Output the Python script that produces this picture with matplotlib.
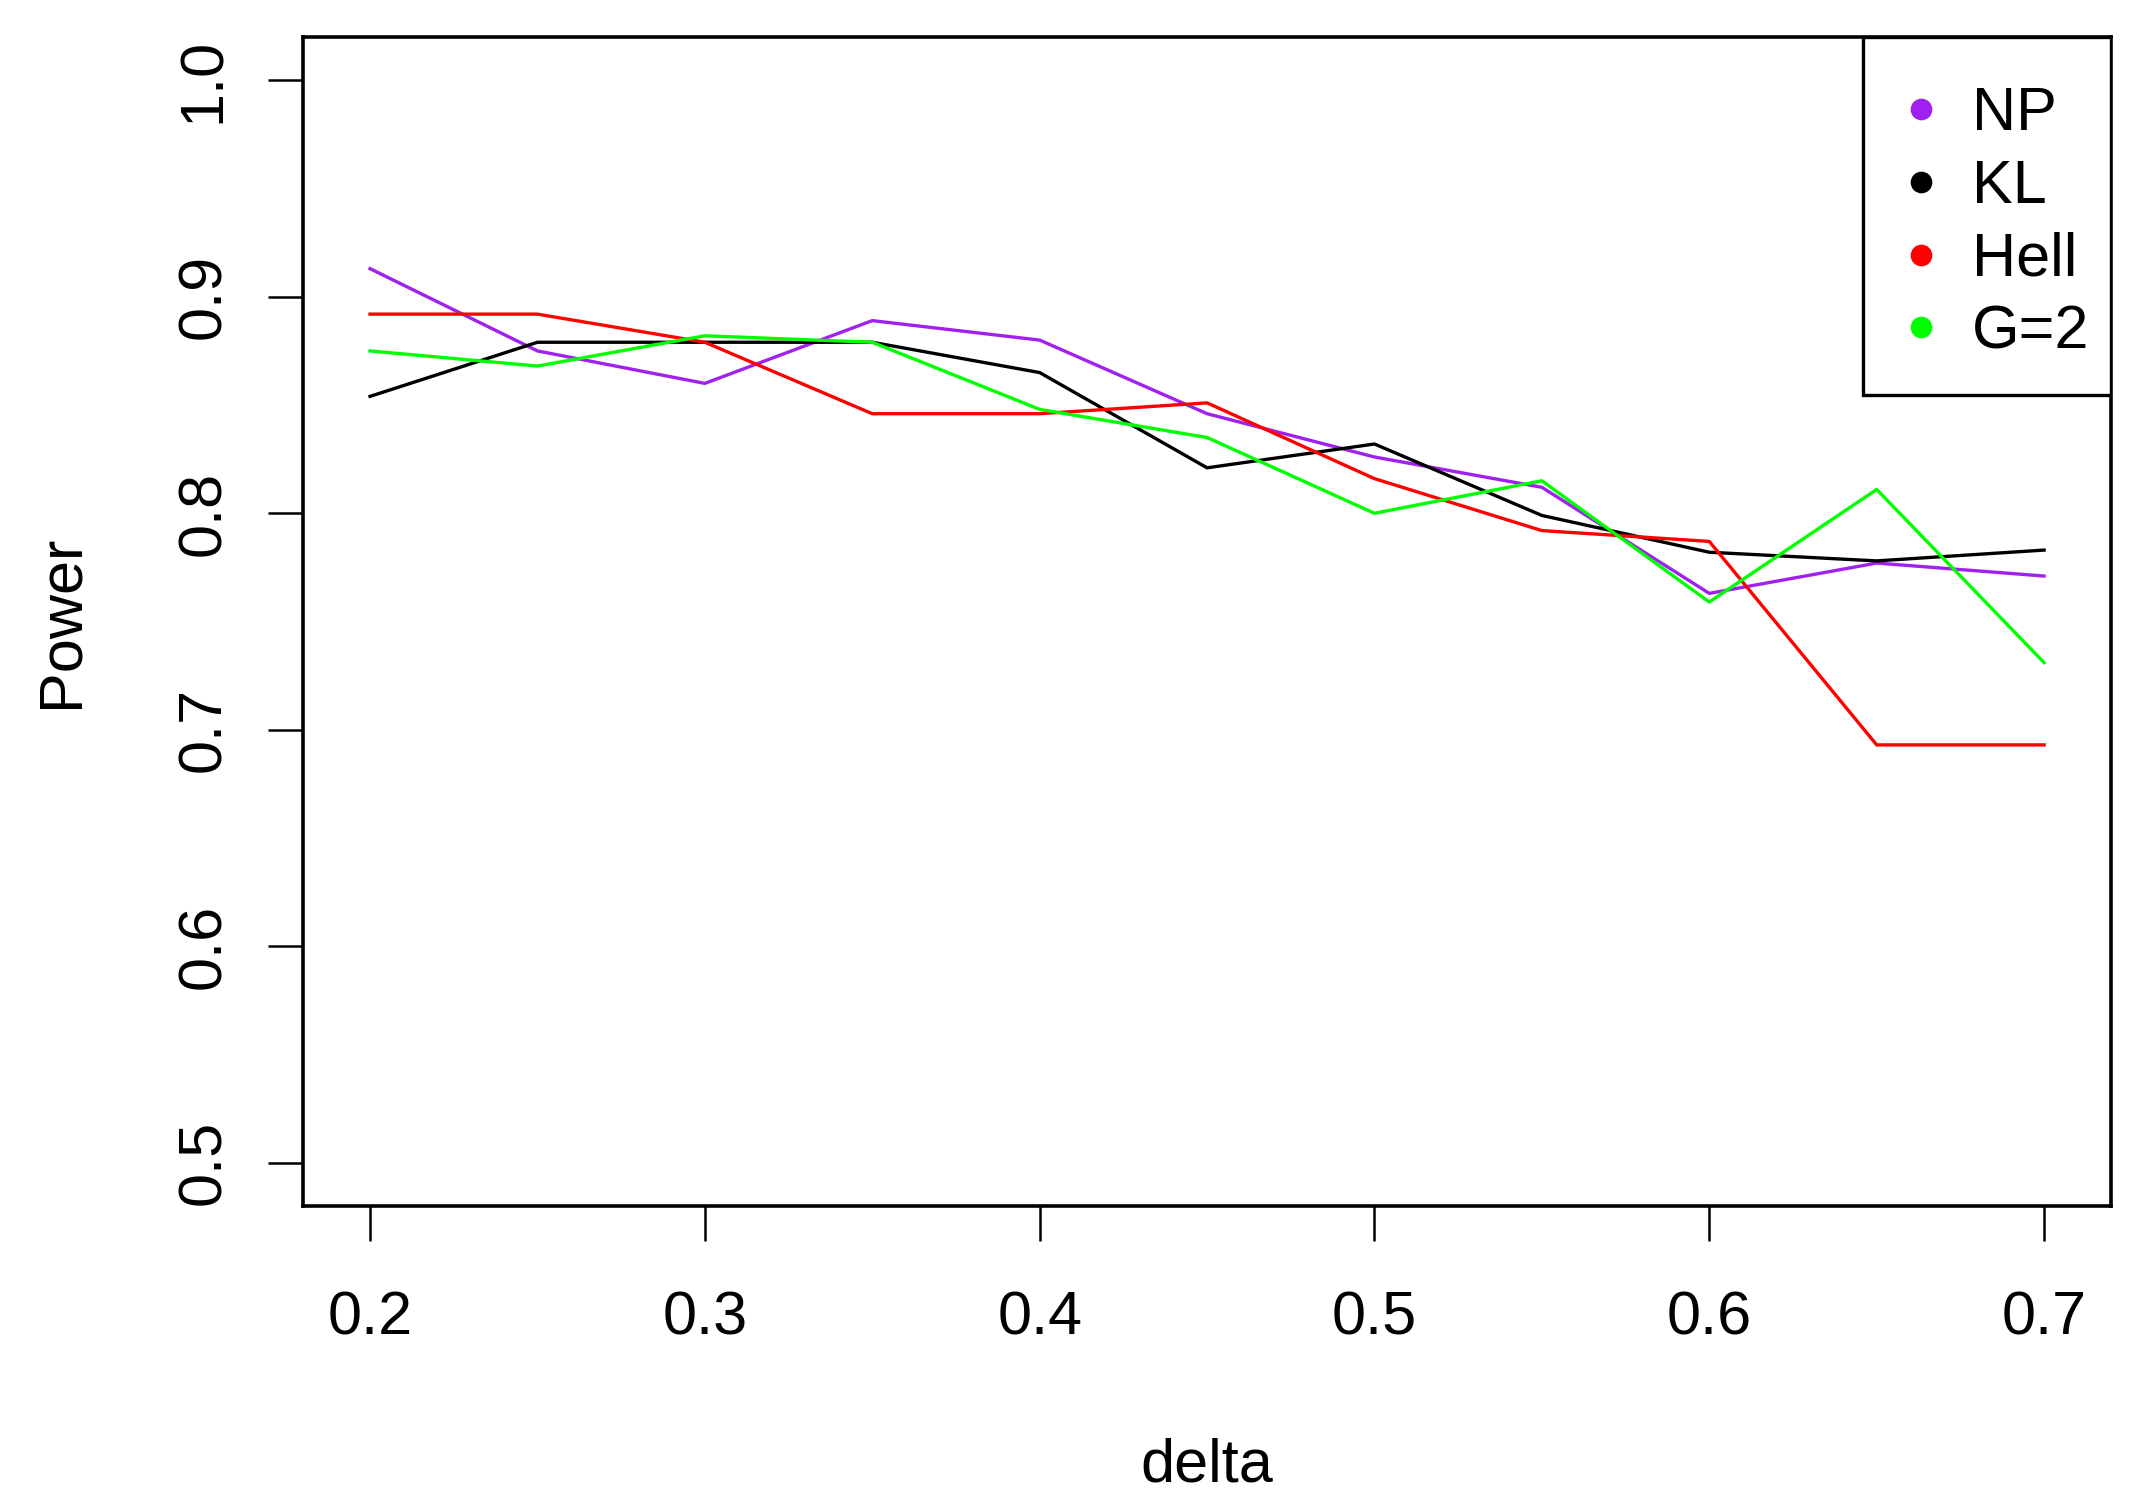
import matplotlib.pyplot as plt
from matplotlib.lines import Line2D
from matplotlib.patches import Rectangle

plt.rcParams['font.family'] = ['Liberation Sans', 'DejaVu Sans']

# data
delta = [0.2, 0.25, 0.3, 0.35, 0.4, 0.45, 0.5, 0.55, 0.6, 0.65, 0.7]
power_np = [0.913, 0.875, 0.860, 0.889, 0.880, 0.846, 0.826, 0.812, 0.763, 0.777, 0.771]
power_kl = [0.854, 0.879, 0.879, 0.879, 0.865, 0.821, 0.832, 0.799, 0.782, 0.778, 0.783]
power_hell = [0.892, 0.892, 0.879, 0.846, 0.846, 0.851, 0.816, 0.792, 0.787, 0.693, 0.693]
power_g2 = [0.875, 0.868, 0.882, 0.879, 0.848, 0.835, 0.800, 0.815, 0.759, 0.811, 0.731]

series = ['NP', 'KL', 'Hell', 'G=2']
colors = ['#A020F0', 'black', 'red', '#00FF00']
x_ticks = [0.2, 0.3, 0.4, 0.5, 0.6, 0.7]
y_ticks = [0.5, 0.6, 0.7, 0.8, 0.9, 1.0]

fs = 22

fig = plt.figure(figsize=(10.74, 7.56), dpi=200)
ax = fig.add_axes([0.1411, 0.2024, 0.8417, 0.7731])   # [left,bottom,width,height]

for vals, c in zip([power_np, power_kl, power_hell, power_g2], colors):
    ax.plot(delta, vals, color=c, lw=1.2)

ax.set_xlim(0.18, 0.72)
ax.set_ylim(0.48, 1.02)
ax.set_xticks(x_ticks)
ax.set_xticklabels([str(t) for t in x_ticks], fontsize=fs)
ax.set_yticks(y_ticks)
ax.set_yticklabels([str(t) for t in y_ticks], fontsize=fs, rotation=90, va='center')

ax.tick_params(axis='both', direction='out', length=12.6, width=0.9, color='black')
ax.tick_params(axis='x', pad=18)
ax.tick_params(axis='y', pad=12.6)
for sp in ax.spines.values():
    sp.set_linewidth(1.3)

ax.set_xlabel('delta', fontsize=fs)
ax.xaxis.set_label_coords(0.5, -0.236)
ax.xaxis.label.set_verticalalignment('baseline')
ax.set_ylabel('Power', fontsize=fs)
ax.yaxis.set_label_coords(-0.1245, 0.5)
ax.yaxis.label.set_verticalalignment('baseline')

# legend box (R style, top right corner)
ax.add_patch(Rectangle((0.863, 0.6937), 0.137, 0.3063, transform=ax.transAxes,
                       facecolor='white', edgecolor='black', lw=1.2, zorder=4))
handles = [Line2D([], [], ls='none', marker='o', ms=6.8, color=c) for c in colors]
leg = ax.legend(handles, series, loc='upper left', bbox_to_anchor=(0.8833, 0.958),
                fontsize=fs, borderaxespad=0, borderpad=0, frameon=False,
                handlelength=0.7, handletextpad=0.48, labelspacing=0.26)
leg.set_zorder(5)

fig.savefig('out.png', dpi=200)
